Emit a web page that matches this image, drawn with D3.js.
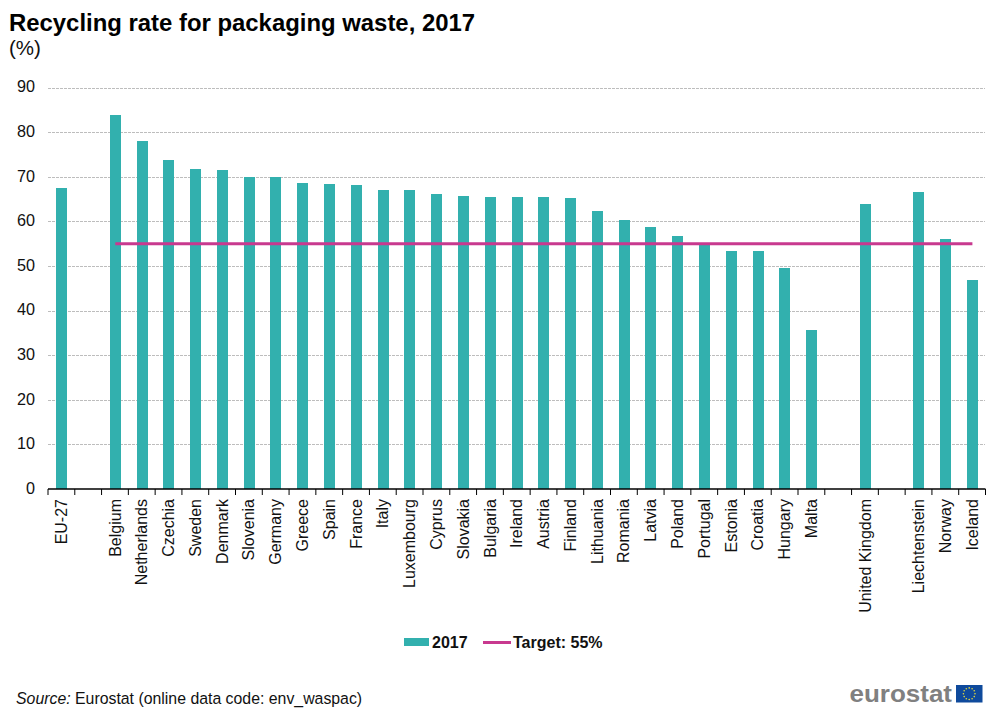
<!DOCTYPE html>
<html><head><meta charset="utf-8">
<script src="https://cdn.jsdelivr.net/npm/d3@7/dist/d3.min.js"></script>
<style>html,body{margin:0;padding:0;background:#fff}svg{display:block;font-family:"Liberation Sans",Arial,sans-serif}</style>
</head><body><svg id="c" width="1000" height="713"></svg>
<script>
const categories=["EU-27","","Belgium","Netherlands","Czechia","Sweden","Denmark","Slovenia","Germany","Greece","Spain","France","Italy","Luxembourg","Cyprus","Slovakia","Bulgaria","Ireland","Austria","Finland","Lithuania","Romania","Latvia","Poland","Portugal","Estonia","Croatia","Hungary","Malta"," ","United Kingdom","  ","Liechtenstein","Norway","Iceland"];
const values=[67.4,null,83.9,78.0,73.7,71.7,71.5,69.9,69.9,68.6,68.4,68.2,67.0,67.0,66.2,65.7,65.4,65.4,65.4,65.2,62.3,60.3,58.8,56.7,55.2,53.3,53.3,49.6,35.6,null,63.9,null,66.6,56.0,46.8];
const targetValue=55;
const targetFrom="Belgium", targetTo="Iceland";
const yTicks=[0,10,20,30,40,50,60,70,80,90];
const titleText="Recycling rate for packaging waste, 2017";
const unitText="(%)";
const legendBar="2017", legendLine="Target: 55%";

const teal="#32b0ae", pink="#c8398f", W=1000;
const svg=d3.select("#c");
const x=d3.scaleBand().domain(categories).range([48.3,985.8]).paddingInner(0.59).paddingOuter(0.295);
const y=d3.scaleLinear().domain([0,90]).range([489,87.5]);

svg.append("text").attr("x",9).attr("y",30.5).attr("font-size",23.9).attr("font-weight","bold").attr("fill","#000").text(titleText);
svg.append("text").attr("x",9).attr("y",55).attr("font-size",20.5).attr("fill","#111").text(unitText);

// y axis + grid
const gy=svg.append("g").attr("transform","translate(48,0)").call(d3.axisLeft(y).tickValues(yTicks).tickSize(0).tickPadding(13));
gy.select(".domain").remove();
gy.selectAll("text").attr("font-size",16.2).attr("font-family","inherit").attr("fill","#111").attr("dy","0.27em");
gy.selectAll(".tick").filter(d=>d!==0).append("line").attr("x1",0).attr("x2",936.5).attr("stroke","#bdbdbd").attr("stroke-width",1).attr("stroke-dasharray","3 1").attr("shape-rendering","crispEdges");

// bars
svg.append("g").attr("shape-rendering","crispEdges").selectAll("rect").data(categories.map((c,i)=>({c,v:values[i]})).filter(d=>d.v!=null)).join("rect")
 .attr("x",d=>x(d.c)).attr("width",x.bandwidth()).attr("y",d=>y(d.v)).attr("height",d=>y(0)-y(d.v)).attr("fill",teal);

// target line
const cx=c=>x(c)+x.bandwidth()/2;
const line=d3.line().x(d=>cx(d)).y(()=>y(targetValue));
svg.append("path").attr("d",line([targetFrom,targetTo])).attr("fill","none").attr("stroke",pink).attr("stroke-width",3);

// x axis
const gx=svg.append("g").attr("transform",`translate(0,${y(0)})`).call(d3.axisBottom(x).tickSize(0).tickPadding(0));
gx.select(".domain").remove();
gx.selectAll("text").attr("font-size",16).attr("font-family","inherit").attr("fill","#111")
 .attr("text-anchor","end").attr("transform","rotate(-90)").attr("x",-10).attr("y",0).attr("dy","0.33em");
svg.append("line").attr("x1",48).attr("x2",985.5).attr("y1",y(0)).attr("y2",y(0)).attr("stroke","#000").attr("stroke-width",1.6);
svg.append("g").selectAll("line").data(d3.range(categories.length+1)).join("line")
 .attr("x1",i=>48+i*x.step()).attr("x2",i=>48+i*x.step()).attr("y1",y(0)).attr("y2",y(0)+6).attr("stroke","#000").attr("stroke-width",1);

// legend
svg.append("rect").attr("x",404).attr("y",638).attr("width",25).attr("height",8).attr("fill",teal);
svg.append("text").attr("x",432).attr("y",647.5).attr("font-size",16).attr("font-weight","bold").attr("fill","#111").text(legendBar);
svg.append("line").attr("x1",483).attr("x2",511).attr("y1",642.5).attr("y2",642.5).attr("stroke",pink).attr("stroke-width",3);
svg.append("text").attr("x",513).attr("y",647.5).attr("font-size",16).attr("font-weight","bold").attr("fill","#111").text(legendLine);

// source
const s=svg.append("text").attr("x",16).attr("y",704).attr("font-size",15.85).attr("fill","#111");
s.append("tspan").attr("font-style","italic").text("Source:");
s.append("tspan").text(" Eurostat (online data code: env_waspac)");

// logo
svg.append("text").attr("x",849.5).attr("y",702).attr("font-size",24.5).attr("font-weight","bold").attr("fill","#808080").attr("textLength",102.5).attr("lengthAdjust","spacingAndGlyphs").text("eurostat");
svg.append("rect").attr("x",956).attr("y",685).attr("width",26.5).attr("height",17.5).attr("fill","#0f4a9c");
svg.append("g").selectAll("circle").data(d3.range(12)).join("circle")
 .attr("cx",i=>969.2+5.8*Math.cos(i*Math.PI/6)).attr("cy",i=>693.7+5.8*Math.sin(i*Math.PI/6)).attr("r",0.8).attr("fill","#e6dc3c");
</script></body></html>
